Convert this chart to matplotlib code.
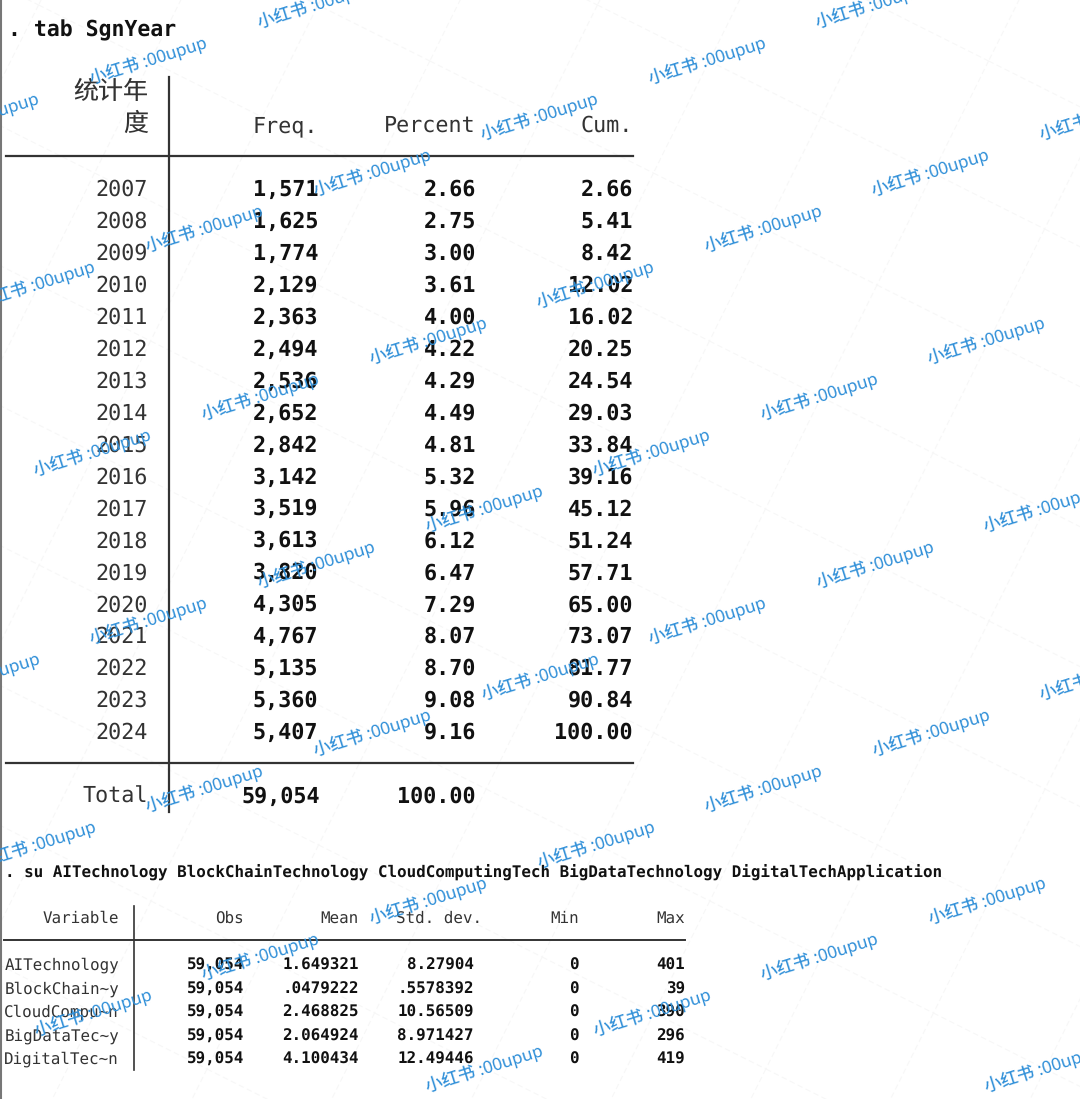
import matplotlib
matplotlib.use('Agg')
import matplotlib.pyplot as plt

plt.rcParams['text.hinting'] = 'no_hinting'

years = list(range(2007, 2025))
freq = [1571, 1625, 1774, 2129, 2363, 2494, 2536, 2652, 2842, 3142, 3519, 3613, 3820, 4305, 4767, 5135, 5360, 5407]
percent = [2.66, 2.75, 3.00, 3.61, 4.00, 4.22, 4.29, 4.49, 4.81, 5.32, 5.96, 6.12, 6.47, 7.29, 8.07, 8.70, 9.08, 9.16]
cum = [2.66, 5.41, 8.42, 12.02, 16.02, 20.25, 24.54, 29.03, 33.84, 39.16, 45.12, 51.24, 57.71, 65.00, 73.07, 81.77, 90.84, 100.00]

variables = ['AITechnology', 'BlockChain~y', 'CloudCompu~n', 'BigDataTec~y', 'DigitalTec~n']
obs = [59054, 59054, 59054, 59054, 59054]
means = ['1.649321', '.0479222', '2.468825', '2.064924', '4.100434']
stds = ['8.27904', '.5578392', '10.56509', '8.971427', '12.49446']
mins = [0, 0, 0, 0, 0]
maxs = [401, 39, 390, 296, 419]

cmd1 = '. tab SgnYear'
cmd2 = '. su AITechnology BlockChainTechnology CloudComputingTech BigDataTechnology DigitalTechApplication'
watermark = '小红书 :00upup'

MONO = 'DejaVu Sans Mono'
INK = '#333333'
BLACK = '#111111'

fig = plt.figure(figsize=(10.8, 10.99), dpi=100)
ax = fig.add_axes([0, 0, 1, 1])
ax.set_xlim(0, 1080)
ax.set_ylim(1099, 0)
ax.axis('off')


def put(x, y, s, size, bold=False, ha='right', color=None):
    # y is the middle of the digits, text sits on a common baseline
    ax.text(x, y + size * 0.51, s, fontsize=size, family=MONO, ha=ha, va='baseline',
            fontweight='bold' if bold else 'normal', zorder=3,
            color=color or (BLACK if bold else INK))


# left window edge
ax.plot([0.5, 0.5], [0, 1099], color='#777777', lw=1.5)

# first table
put(8, 29, cmd1, 15.5, bold=True, ha='left')
ax.text(148, 92, '统计年', fontsize=18, family='Noto Sans CJK SC', ha='right', va='center', color=INK)
ax.text(148, 124, '度', fontsize=18, family='Noto Sans CJK SC', ha='right', va='center', color=INK)

big = 15.67
put(318, 124, 'Freq.', big)
put(476, 124, 'Percent', big)
put(633, 124, 'Cum.', big)
ax.plot([6, 633], [156, 156], color=INK, lw=1.6)
ax.plot([6, 633], [763, 763], color=INK, lw=1.6)
ax.plot([169, 169], [77, 812], color=INK, lw=1.6)

for i, yr in enumerate(years):
    y = 188 + i * 31.94
    put(148, y, str(yr), big)
    put(318, y, f'{freq[i]:,}', big, bold=True)
    put(476, y, f'{percent[i]:.2f}', big, bold=True)
    put(633, y, f'{cum[i]:.2f}', big, bold=True)

put(148, 795, 'Total', big)
put(320, 795, f'{sum(freq):,}', big, bold=True)
put(476, 795, f'{100:.2f}', big, bold=True)

# second table
small = 11.45
put(5, 871, cmd2, small, bold=True, ha='left')
put(119, 917, 'Variable', small)
put(244, 917, 'Obs', small)
put(359, 917, 'Mean', small)
put(482, 917, 'Std. dev.', small)
put(579, 917, 'Min', small)
put(685, 917, 'Max', small)
ax.plot([4, 685], [940, 940], color=INK, lw=1.4)
ax.plot([134, 134], [906, 1070], color=INK, lw=1.2)

for i, name in enumerate(variables):
    y = 964 + i * 23.5
    put(119, y, name, small)
    put(244, y, f'{obs[i]:,}', small, bold=True)
    put(359, y, means[i], small, bold=True)
    put(474, y, stds[i], small, bold=True)
    put(579, y, str(mins[i]), small, bold=True)
    put(685, y, str(maxs[i]), small, bold=True)

# repeating watermark and its faint grid
ax_step, ay_step = -167.6, 56
bx_step, by_step = 56, 168
for m in range(-12, 13):
    for n in range(-12, 13):
        gx = 933 + ax_step * m + bx_step * n
        gy = 453 + ay_step * m + by_step * n
        if -300 < gx < 1400 and -300 < gy < 1400:
            ax.plot([gx, gx + bx_step - ax_step], [gy, gy + by_step - ay_step],
                    color='#f7f7f7', lw=0.8, ls=(0, (5, 3)), zorder=1)
            ax.plot([gx, gx + bx_step + ax_step], [gy, gy + by_step + ay_step],
                    color='#f7f7f7', lw=0.8, ls=(0, (5, 3)), zorder=1)

        x = 372 + ax_step * m + bx_step * n
        y = 173 + ay_step * m + by_step * n
        if -80 < x < 1160 and -30 < y < 1130:
            ax.text(x, y, watermark, fontsize=12.3, rotation=17.5, rotation_mode='anchor',
                    ha='center', va='center', color='#2f8fd8', zorder=5,
                    family=['Noto Sans', 'Noto Sans CJK SC'], clip_on=True)

fig.savefig('out.png', dpi=100)
